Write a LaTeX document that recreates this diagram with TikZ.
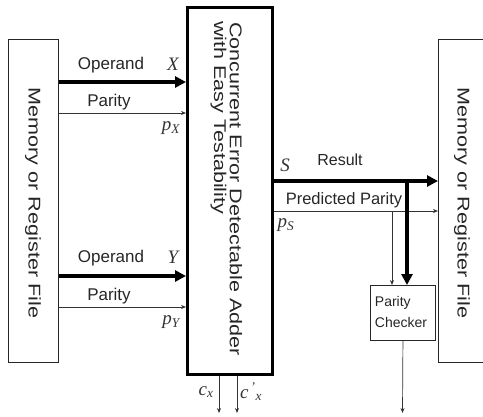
\documentclass[tikz,border=0pt]{standalone}
\usepackage{fontspec}
\usepackage{graphicx}
\setmainfont{Liberation Sans}
\newfontfamily\tnr{Liberation Serif}
\usetikzlibrary{arrows.meta}
\begin{document}
\begin{tikzpicture}[x=1pt,y=-1pt,
  box/.style={draw=black!85, line width=0.9pt, inner sep=0pt, anchor=north west},
  lab/.style={font=\fontsize{17}{17}\selectfont, text=black!85, inner sep=0pt},
  var/.style={font=\fontsize{19}{19}\selectfont\tnr\itshape, text=black!80, inner sep=0pt},
  vert/.style={rotate=-90, inner sep=0pt, text=black!85},
  bus/.style={line width=4pt, -{Triangle[length=11pt,width=11pt]}},
  sig/.style={line width=0.7pt, black!80, -{Stealth[length=5pt,width=4pt]}}
]
\useasboundingbox (0,0) rectangle (483,416);

% blocks
\node[box, minimum width=50pt, minimum height=323pt] (memL) at (8,39) {};
\node[box, minimum width=60pt, minimum height=323pt] (memR) at (438,39) {};
\node[box, draw=black, line width=3pt, minimum width=85pt, minimum height=367pt] (adder) at (186,6) {};
\node[box, minimum width=65pt, minimum height=55pt] (checker) at (370,285) {};

% block texts
\node[vert, font=\fontsize{17}{17}\selectfont] (tL) at (33,203) {\scalebox{1.27}[1]{Memory or Register File}};
\node[vert, font=\fontsize{17}{17}\selectfont] (tR) at (462,203) {\scalebox{1.27}[1]{Memory or Register File}};
\node[vert, anchor=west, font=\fontsize{17}{17}\selectfont] (tA1) at (236,22) {\scalebox{1.27}[1]{Concurrent Error Detectable Adder}};
\node[vert, anchor=west, font=\fontsize{17}{17}\selectfont] (tA2) at (218.5,21) {\scalebox{1.27}[1]{with Easy Testability}};
\node[inner sep=0pt, align=left, text=black!85, font=\fontsize{14}{21}\selectfont] (tC) at (401,312) {Parity\\Checker};

% helper coordinates
\coordinate (yX) at (0,82);
\coordinate (ypX) at (0,113);
\coordinate (yY) at (0,276);
\coordinate (ypY) at (0,307);
\coordinate (yS) at (0,181);
\coordinate (ypS) at (0,211);
\coordinate (vT) at (407,181);
\coordinate (vP) at (392,211);
\coordinate (out) at (402.5,413);
\coordinate (cx) at (219,413);
\coordinate (cxp) at (237,413);

% inputs
\draw[bus] (memL.east |- yX) -- (adder.west |- yX);
\draw[sig] (memL.east |- ypX) -- (adder.west |- ypX);
\draw[bus] (memL.east |- yY) -- (adder.west |- yY);
\draw[sig] (memL.east |- ypY) -- (adder.west |- ypY);

% outputs
\draw[sig] (adder.east |- ypS) -- (memR.west |- ypS);
\draw[sig] (vP) -- (checker.north -| vP);
\draw[bus] (adder.east |- yS) -- (memR.west |- yS);
\draw[bus] (vT) -- (checker.north -| vT);
\draw[sig] (checker.south) -- (out);
\draw[sig] (adder.south -| cx) -- (cx);
\draw[sig] (adder.south -| cxp) -- (cxp);

% labels
\node[lab] (l1) at (111,65) {Operand};
\node[var] (l2) at (173,64) {X};
\node[lab] (l3) at (109,102) {Parity};
\node[var] (l4) at (171,128) {p\textsubscript{X}};
\node[lab] (l5) at (111,258) {Operand};
\node[var] (l6) at (173,257) {Y};
\node[lab] (l7) at (109,296) {Parity};
\node[var] (l8) at (171,322) {p\textsubscript{Y}};
\node[var] (l9) at (285,165) {S};
\node[lab, font=\fontsize{16}{16}\selectfont] (l10) at (340,160) {Result};
\node[lab, font=\fontsize{16.5}{16.5}\selectfont] (l11) at (344,200) {Predicted Parity};
\node[var] (l12) at (286,225) {p\textsubscript{S}};
\node[var] (l13) at (206,392) {c\textsubscript{x}};
\node[var] (l14) at (251,392) {c\textsuperscript{\,’}\textsubscript{x}};
\end{tikzpicture}
\end{document}
